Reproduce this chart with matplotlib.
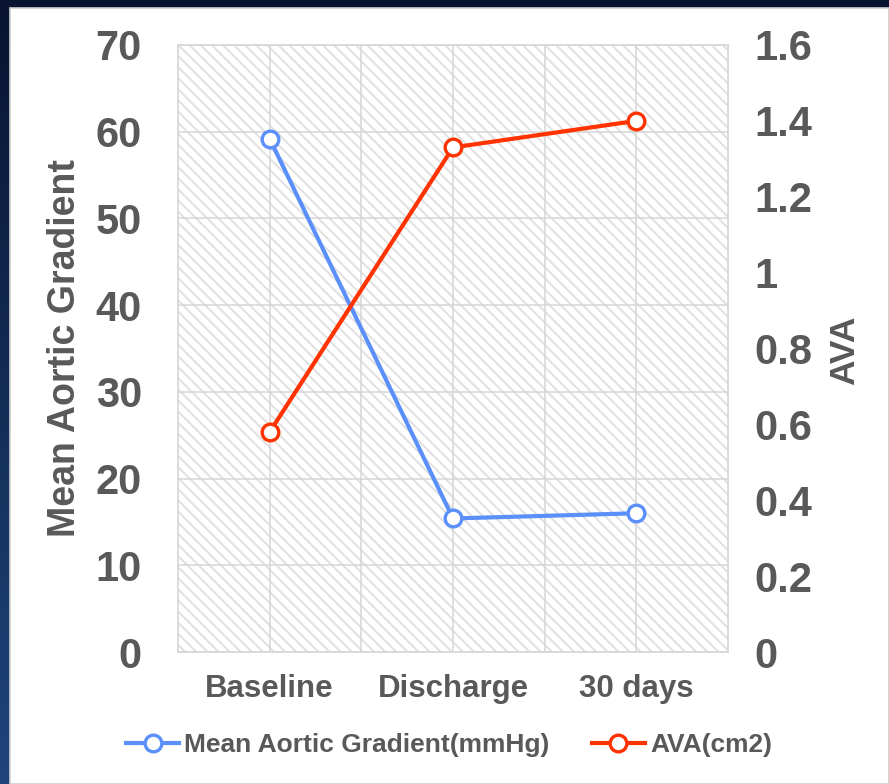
import numpy as np
import matplotlib
matplotlib.use("Agg")
import matplotlib.pyplot as plt
from matplotlib.patches import Rectangle

# values per time point
stages = ["Baseline", "Discharge", "30 days"]
gradient_mmhg = [59.2, 15.4, 16.0]
ava_cm2 = [0.58, 1.33, 1.40]

left_ticks = [0, 10, 20, 30, 40, 50, 60, 70]
right_ticks = [0, 0.2, 0.4, 0.6, 0.8, 1.0, 1.2, 1.4, 1.6]
right_tick_labels = ["0", "0.2", "0.4", "0.6", "0.8", "1", "1.2", "1.4", "1.6"]

BLUE = "#5b8ff9"
RED = "#ff3300"
TXT = "#595959"
GRID = "#d6d6d6"

plt.rcParams["font.family"] = ["Liberation Sans", "DejaVu Sans"]
plt.rcParams["font.weight"] = "bold"
plt.rcParams["hatch.color"] = "#e0e0e0"
plt.rcParams["hatch.linewidth"] = 1.4

W, H = 889, 784
fig = plt.figure(figsize=(W / 100, H / 100), dpi=100)

# dark blue slide background with a white panel on top
bg = fig.add_axes([0, 0, 1, 1], zorder=-10)
grad = np.linspace(0, 1, 256).reshape(-1, 1)
top = np.array([0x08, 0x14, 0x30]) / 255
bot = np.array([0x1f, 0x45, 0x7c]) / 255
img = top + (bot - top) * grad[:, :, None]
bg.imshow(img, aspect="auto", extent=[0, W, 0, H])
bg.add_patch(Rectangle((10, 0), W - 10, H - 8, facecolor="white",
                       edgecolor="#d0d0d0", linewidth=1.2))
bg.set_xlim(0, W)
bg.set_ylim(0, H)
bg.axis("off")

ax = fig.add_axes([178 / W, (H - 652) / H, 550 / W, 607 / H])
ax.patch.set_alpha(0)
ax.add_patch(Rectangle((0, 0), 1, 1, transform=ax.transAxes, facecolor="white",
                       edgecolor="#e0e0e0", hatch="\\\\\\", linewidth=0, zorder=0))

x = np.arange(len(stages))
ax.set_xlim(-0.5, 2.5)
ax.set_ylim(0, 70)
ax.set_xticks(x)
ax.set_xticklabels(stages)
ax.set_xticks([0.5, 1.5], minor=True)
ax.set_yticks(left_ticks)
ax.grid(True, which="both", color=GRID, linewidth=1.1, zorder=1)
ax.set_axisbelow(False)
ax.tick_params(axis="x", which="both", length=0, pad=16, labelsize=22.5, labelcolor=TXT)
ax.tick_params(axis="y", length=0, pad=26, labelsize=30, labelcolor=TXT)
for s in ax.spines.values():
    s.set_color(GRID)
    s.set_linewidth(1.2)

ax2 = ax.twinx()
ax2.set_ylim(0, 1.6)
ax2.set_yticks(right_ticks)
ax2.set_yticklabels(right_tick_labels)
ax2.tick_params(axis="y", length=0, pad=19, labelsize=30, labelcolor=TXT)
for s in ax2.spines.values():
    s.set_visible(False)

mk = dict(marker="o", markersize=12, markerfacecolor="white", markeredgewidth=2.4)
l1, = ax.plot(x, gradient_mmhg, color=BLUE, linewidth=3, markeredgecolor=BLUE,
              label="Mean Aortic Gradient(mmHg)", zorder=5, **mk)
l2, = ax2.plot(x, ava_cm2, color=RED, linewidth=3, markeredgecolor=RED,
               label="AVA(cm2)", zorder=5, **mk)

fig.text(65 / W, 1 - 348 / H, "Mean Aortic Gradient", rotation=90, ha="center",
         va="center", fontsize=27, color=TXT, fontweight="bold")
fig.text(845 / W, 1 - 350 / H, "AVA", rotation=90, ha="center",
         va="center", fontsize=25.5, color=TXT, fontweight="bold")

leg = fig.legend([l1, l2], [l1.get_label(), l2.get_label()], loc="center",
                 bbox_to_anchor=(449 / W, 1 - 745 / H), ncol=2, frameon=False,
                 fontsize=19, handlelength=2.0, handletextpad=0.2,
                 columnspacing=1.6)
for t in leg.get_texts():
    t.set_color(TXT)

fig.savefig("out.png", dpi=100)
